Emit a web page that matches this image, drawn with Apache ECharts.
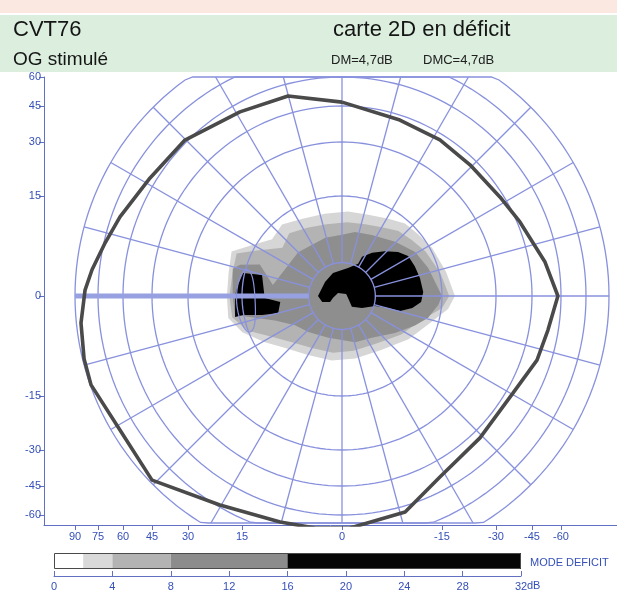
<!DOCTYPE html>
<html><head><meta charset="utf-8">
<script src="https://cdn.jsdelivr.net/npm/echarts@6/dist/echarts.min.js"></script>
<style>html,body{margin:0;padding:0;background:#fff}#c{width:617px;height:594px}</style>
</head><body><div id="c"></div>
<script>
// ---------- scale of the perimetry chart (eccentricity in degrees -> radial units) ----------
const scaleDeg   = [0, 15, 30, 45, 60, 75, 90];
const scaleUnits = [0, 100, 154, 190, 219, 244, 267];

// ---------- grid ----------
const gridCircleDeg = [5, 15, 30, 45, 60, 75, 90];
const meridianDeg = [0,15,30,45,60,75,90,105,120,135,150,165,180,195,210,225,240,255,270,285,300,315,330,345];

// ---------- axis tick labels (degrees) ----------
const yTickDeg = [60, 45, 30, 15, 0, -15, -30, -45, -60];
const xTickDeg = [90, 75, 60, 45, 30, 15, 0, -15, -30, -45, -60];

// ---------- isopter: [meridian angle deg, eccentricity deg] ----------
const isopter = [
  [90,47],[105.1,53.9],[119,55.6],[135.2,61.4],[148.4,63.8],[160.4,70],[167.4,74.3],[174,79.8],
  [178.7,83.5],[185.9,87],[193.7,89],[199.5,89.5],[211.1,85],[224.1,88.4],[239.7,73.8],[254.7,69.2],
  [263.4,68.8],[272,67.9],[286.3,63.6],[298.4,53.2],[314.2,49.1],[330.4,48.4],[341.8,52.9],[350.6,54.7],
  [0,58.4],[9.5,53.2],[22.6,46.4],[32.1,43.5],[45.7,42.2],[57.9,42.6],[71.8,43]
];

// ---------- deficit map outlines: [angle deg, eccentricity deg] ----------
const deficit2dB = [
  [0,18.6],[13,16.9],[28,15.6],[39,14.7],[49,14.4],[59,13.5],[72,12.8],[86,12.7],[102,12.6],[117,13],
  [130,14],[141,13.5],[152,16.7],[158,20.3],[168,19.4],[180,19.2],[191,19.4],[200,16.7],[211,13.5],
  [222,11.6],[240,10.2],[261,9.8],[282,9.6],[306,10],[327,11.9],[344,14],[353,16.9]
];
const deficit4dB = [
  [0,17],[13,15.3],[28,14.2],[39,13.4],[49,12.9],[59,12],[72,11.3],[86,11.1],[102,11],[117,11.5],
  [130,12.3],[141,11.5],[152,14.5],[158,18.8],[168,18.3],[180,18.5],[191,18.3],[200,15.2],[211,12],
  [222,10.3],[240,9],[261,8.6],[282,8.4],[306,8.8],[327,10.6],[344,12.6],[353,15.2]
];
const deficit8dB = [
  [0,15],[18,13.6],[31,12.8],[45.5,11.4],[64,10.2],[78.5,9.8],[90,9.2],[106,9.1],[135,9.3],[171,10.5],
  [159,13.2],[163,16.8],[166,18.5],[180,17.6],[190,17.4],[194,13.5],[200,10.7],[212,8.3],[227,7.4],
  [252,6.6],[286,7.2],[305.5,7.7],[325,9.7],[338,11.8],[345.6,13.3],[354.6,14.5]
];
const deficit16dB_a = [
  [166.9,15.4],[165.3,12.4],[181.5,11.6],[185.5,9.3],[194.9,9.9],[193.4,12.3],[190.9,15.2],[191.1,17.5],
  [179.5,16.9],[174,16.3]
];
const deficit16dB_b = [
  [180,3.6],[140.5,3.3],[111.4,3.7],[77.9,4.3],[63.4,5.4],[62.9,6.6],[55.1,7.9],[46.3,9.3],[38.2,10.7],
  [31.2,11.6],[22.3,11.8],[13,12],[2.8,12.2],[355.7,11.9],[350.3,10.7],[345.5,9],[345.4,7.1],[343.1,5.2],
  [329,3.5],[312.3,2.2],[330.3,1.2],[26.6,0.7],[143,0.75],[192.5,1.4],[206.6,2],[196.7,3.1]
];
// blind spot: centre [angle, ecc] and half extents [angle, ecc]
const blindSpotCentre = [182.9, 14.8];
const blindSpotHalf = [18.5, 1.75];

// ---------- colour scale ----------
const legendBreaks = [0, 2, 4, 8, 16, 32];

// ---------- styles ----------
const legendColors = ['#ffffff', '#d9d9d9', '#b3b3b3', '#8c8c8c', '#060606'];
const mapColors = ['#d6d6d6', '#b3b3b3', '#8e8e8e', '#000000'];
const gridColor = '#8891dd';
const axisColor = '#6270c4';
const labelColor = '#3550b8';
const FONT = '"Liberation Sans", Arial, sans-serif';

// ---------- helpers ----------
function eccU(e) {
  const n = scaleDeg.length;
  for (let i = 1; i < n; i++) {
    if (e <= scaleDeg[i] || i === n - 1) {
      const t = (e - scaleDeg[i-1]) / (scaleDeg[i] - scaleDeg[i-1]);
      return scaleUnits[i-1] + t * (scaleUnits[i] - scaleUnits[i-1]);
    }
  }
}
function toXY(a, e) {
  const u = eccU(e), t = a * Math.PI / 180;
  return [u * Math.cos(t), u * Math.sin(t)];
}
const X_MIN = -298, X_MAX = 275, Y_MIN = -229, Y_MAX = 219;
const CLIP_TOP = 219, CLIP_BOT = -227;
const clampY = y => Math.max(CLIP_BOT, Math.min(CLIP_TOP, y));

// grid circles
const circleLines = gridCircleDeg.map(d => {
  const u = eccU(d), pts = [];
  for (let a = 0; a <= 360; a += 2) {
    const t = a * Math.PI / 180;
    pts.push([u * Math.cos(t), clampY(u * Math.sin(t))]);
  }
  return pts;
});
// meridians
function ray(m) {
  const t = m * Math.PI / 180, c = Math.cos(t), s = Math.sin(t);
  let u1 = eccU(90);
  if (s > 1e-6) u1 = Math.min(u1, CLIP_TOP / s);
  if (s < -1e-6) u1 = Math.min(u1, -CLIP_BOT / -s);
  const u0 = eccU(gridCircleDeg[0]);
  return [[u0 * c, u0 * s], [u1 * c, u1 * s]];
}
const rayLines = meridianDeg.filter(m => m !== 180).map(ray);
const thickRay = [ray(180)];

// blind spot outline
const blindPts = [];
for (let k = 0; k <= 36; k++) {
  const t = k * 10 * Math.PI / 180;
  blindPts.push(toXY(blindSpotCentre[0] + blindSpotHalf[0] * Math.sin(t), blindSpotCentre[1] + blindSpotHalf[1] * Math.cos(t)));
}

// ticks
const yTickPos = yTickDeg.map(d => (d >= 0 ? 1 : -1) * eccU(Math.abs(d)));
const xTickPos = xTickDeg.map(d => (d > 0 ? -1 : 1) * eccU(Math.abs(d)));
function labelFrom(pos, degs) {
  return v => {
    for (let i = 0; i < pos.length; i++) if (Math.abs(pos[i] - v) < 0.01) return String(degs[i]);
    return '';
  };
}

function polySeries(list, color, z) {
  const pts = list.map(p => toXY(p[0], p[1]));
  return {
    type: 'custom', xAxisIndex: 0, yAxisIndex: 0, z: z, silent: true,
    data: [[0, 0]],
    renderItem: (params, api) => ({
      type: 'polygon',
      shape: { points: pts.map(p => api.coord(p)) },
      style: { fill: color }
    })
  };
}
function polylineSeries(lines, color, width, z) {
  return {
    type: 'custom', xAxisIndex: 0, yAxisIndex: 0, z: z, silent: true,
    data: lines.map((l, i) => [i, 0]),
    renderItem: (params, api) => ({
      type: 'polyline',
      shape: { points: lines[params.dataIndex].map(p => api.coord(p)) },
      style: { fill: 'none', stroke: color, lineWidth: width }
    })
  };
}

const chart = echarts.init(document.getElementById('c'), null, { renderer: 'canvas' });
const option = {
  animation: false,
  backgroundColor: '#ffffff',
  grid: [
    { left: 44, top: 77, width: 573, height: 448 },
    { left: 54, top: 553, width: 467, height: 16 }
  ],
  xAxis: [
    {
      type: 'value', gridIndex: 0, min: X_MIN, max: X_MAX,
      splitLine: { show: false },
      axisLine: { show: true, onZero: false, lineStyle: { color: axisColor, width: 1 } },
      axisTick: { show: true, customValues: xTickPos, length: 5, lineStyle: { color: axisColor } },
      axisLabel: { customValues: xTickPos, formatter: labelFrom(xTickPos, xTickDeg), color: labelColor, fontSize: 11, fontFamily: FONT, margin: 6 }
    },
    {
      type: 'value', gridIndex: 1, min: 0, max: 32, interval: 4, offset: 7,
      splitLine: { show: false },
      axisLine: { show: true, onZero: false, lineStyle: { color: axisColor, width: 1 } },
      axisTick: { show: true, inside: true, length: 5, lineStyle: { color: axisColor } },
      axisLabel: { color: labelColor, fontSize: 11, fontFamily: FONT, margin: 5 }
    }
  ],
  yAxis: [
    {
      type: 'value', gridIndex: 0, min: Y_MIN, max: Y_MAX,
      splitLine: { show: false },
      axisLine: { show: true, onZero: false, lineStyle: { color: axisColor, width: 1 } },
      axisTick: { show: true, customValues: yTickPos, length: 5, lineStyle: { color: axisColor } },
      axisLabel: { customValues: yTickPos, formatter: labelFrom(yTickPos, yTickDeg), color: labelColor, fontSize: 11, fontFamily: FONT, margin: 3 }
    },
    { type: 'value', gridIndex: 1, min: 0, max: 1, show: false }
  ],
  graphic: [
    { type: 'rect', left: 0, top: 0, z: -10, shape: { width: 617, height: 13 }, style: { fill: '#fbe8e1' } },
    { type: 'rect', left: 0, top: 15, z: -10, shape: { width: 617, height: 57 }, style: { fill: '#dcefdf' } },
    { type: 'text', left: 13, top: 19, style: { text: 'CVT76', fill: '#151515', font: '22px ' + FONT } },
    { type: 'text', left: 333, top: 19, style: { text: 'carte 2D en déficit', fill: '#151515', font: '22px ' + FONT } },
    { type: 'text', left: 13, top: 50, style: { text: 'OG stimulé', fill: '#151515', font: '19px ' + FONT } },
    { type: 'text', left: 331, top: 54, style: { text: 'DM=4,7dB', fill: '#202020', font: '13px ' + FONT } },
    { type: 'text', left: 423, top: 54, style: { text: 'DMC=4,7dB', fill: '#202020', font: '13px ' + FONT } },
    { type: 'text', left: 530, top: 557, style: { text: 'MODE DEFICIT', fill: labelColor, font: '11px ' + FONT } },
    { type: 'text', left: 527, top: 580, style: { text: 'dB', fill: labelColor, font: '11px ' + FONT } }
  ],
  series: [
    polySeries(deficit2dB, mapColors[0], 1),
    polySeries(deficit4dB, mapColors[1], 2),
    polySeries(deficit8dB, mapColors[2], 3),
    polySeries(deficit16dB_a, mapColors[3], 4),
    polySeries(deficit16dB_b, mapColors[3], 4),
    polylineSeries(circleLines.concat(rayLines), gridColor, 1.3, 5),
    polylineSeries(thickRay, '#97a1e2', 5, 5),
    polylineSeries([blindPts], gridColor, 1.2, 6),
    {
      type: 'line', xAxisIndex: 0, yAxisIndex: 0, z: 10, silent: true, showSymbol: false, symbol: 'none',
      lineStyle: { color: '#4a4a4a', width: 3.6 },
      data: isopter.concat([isopter[0]]).map(p => toXY(p[0], p[1]))
    },
    {
      type: 'custom', xAxisIndex: 1, yAxisIndex: 1, silent: true,
      data: legendColors.map((c, i) => [legendBreaks[i], legendBreaks[i + 1], i]),
      renderItem: (params, api) => {
        const p0 = api.coord([api.value(0), 1]), p1 = api.coord([api.value(1), 0]);
        return { type: 'rect', shape: { x: p0[0], y: p0[1], width: p1[0] - p0[0], height: p1[1] - p0[1] },
                 style: { fill: legendColors[api.value(2)] } };
      }
    },
    {
      type: 'custom', xAxisIndex: 1, yAxisIndex: 1, silent: true, z: 3,
      data: [[legendBreaks[0], legendBreaks[legendBreaks.length - 1]]],
      renderItem: (params, api) => {
        const p0 = api.coord([api.value(0), 1]), p1 = api.coord([api.value(1), 0]);
        return { type: 'rect', shape: { x: p0[0] + 0.5, y: p0[1] + 0.5, width: p1[0] - p0[0] - 1, height: p1[1] - p0[1] - 1 },
                 style: { fill: 'none', stroke: '#4a4a4a', lineWidth: 1 } };
      }
    }
  ]
};
chart.setOption(option);
</script>
</body></html>
